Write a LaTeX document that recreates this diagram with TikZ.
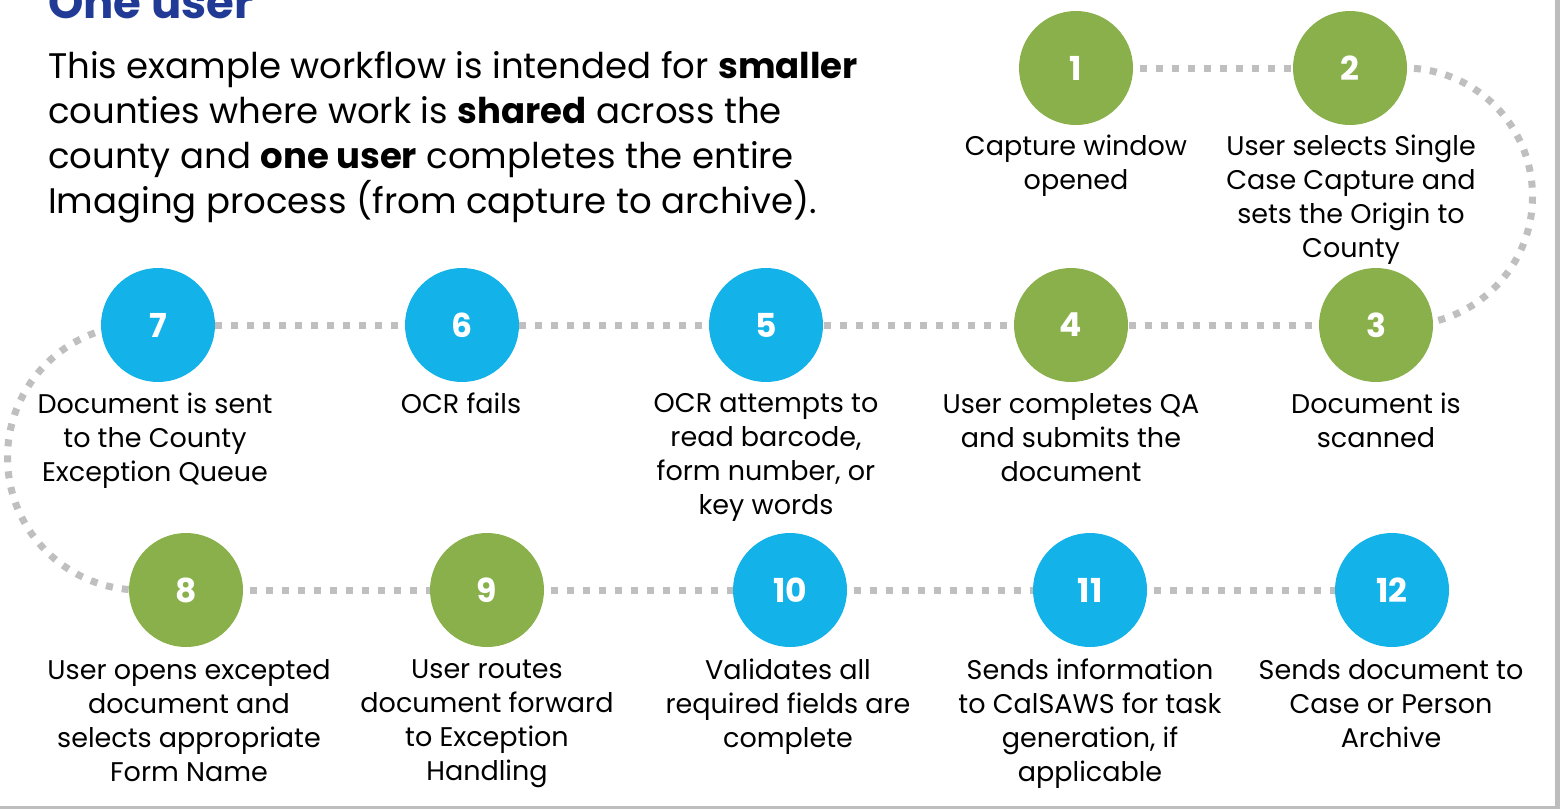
\documentclass[tikz,border=0pt]{standalone}
\usepackage{fontspec}
\setmainfont{Poppins}
\usetikzlibrary{backgrounds}
\definecolor{stepgreen}{HTML}{8AB04B}
\definecolor{stepblue}{HTML}{13B2E9}
\definecolor{dotgray}{HTML}{BFBFBF}
\definecolor{titleblue}{HTML}{213A96}
\definecolor{framegray}{HTML}{BDBDBD}
\tikzset{
  stepcircle/.style={circle, minimum size=114pt, inner sep=0pt, text=white,
    font=\fontsize{33}{33}\selectfont\bfseries},
  greenstep/.style={stepcircle, fill=stepgreen},
  bluestep/.style={stepcircle, fill=stepblue},
  steplabel/.style={anchor=north, inner sep=0pt, align=center,
    font=\fontsize{27}{34}\selectfont},
  dotline/.style={draw=dotgray, line width=7pt, dash pattern=on 7pt off 9pt}
}
\begin{document}
\begin{tikzpicture}[x=1pt, y=-1pt]
\useasboundingbox (0,0) rectangle (1560,809);
\begin{scope}[on background layer]
\fill[white] (0,0) rectangle (1560,809);
\end{scope}
% frame edges
\fill[framegray] (1555,0) rectangle (1560,809);
\fill[framegray] (0,806) rectangle (1560,809);

% heading and intro
\node[anchor=base west, inner sep=0pt, text=titleblue,
  font=\fontsize{45}{45}\selectfont\bfseries] (title) at (48,18) {One user};
\node[anchor=north west, inner sep=0pt, align=left,
  font=\fontsize{35.5}{45}\selectfont] (intro) at (48,51)
  {This example workflow is intended for \textbf{smaller}\\
   counties where work is \textbf{shared} across the\\
   county and \textbf{one user} completes the entire\\
   Imaging process (from capture to archive).};

% step circles
\node[greenstep] (c1) at (1076,68) {1};
\node[greenstep] (c2) at (1350,68) {2};
\node[greenstep] (c3) at (1376,325) {3};
\node[greenstep] (c4) at (1071,325) {4};
\node[bluestep]  (c5) at (766,325) {5};
\node[bluestep]  (c6) at (462,325) {6};
\node[bluestep]  (c7) at (158,325) {7};
\node[greenstep] (c8) at (186,590) {8};
\node[greenstep] (c9) at (487,590) {9};
\node[bluestep]  (c10) at (790,590) {10};
\node[bluestep]  (c11) at (1090,590) {11};
\node[bluestep]  (c12) at (1392,590) {12};

% dotted path joining the steps
\begin{scope}[on background layer]
\draw[dotline] (c1.center) -- (c2.center);
\draw[dotline] (c2.center) -- ++(54,0) arc[start angle=-90, end angle=90, radius=128.5] -- (c3.center);
\draw[dotline] (c3.center) -- (c4.center);
\draw[dotline] (c4.center) -- (c5.center);
\draw[dotline] (c5.center) -- (c6.center);
\draw[dotline] (c6.center) -- (c7.center);
\draw[dotline] (c7.center) -- ++(-18,0) arc[start angle=-90, end angle=-270, radius=132.5] -- (c8.center);
\draw[dotline] (c8.center) -- (c9.center);
\draw[dotline] (c9.center) -- (c10.center);
\draw[dotline] (c10.center) -- (c11.center);
\draw[dotline] (c11.center) -- (c12.center);
\end{scope}

% step descriptions
\node[steplabel] (l1) at (1076,135) {Capture window\\opened};
\node[steplabel] (l2) at (1351,135) {User selects Single\\Case Capture and\\sets the Origin to\\County};
\node[steplabel] (l3) at (1376,393) {Document is\\scanned};
\node[steplabel] (l4) at (1071,393) {User completes QA\\and submits the\\document};
\node[steplabel] (l5) at (766,393) {OCR attempts to\\read barcode,\\form number, or\\key words};
\node[steplabel] (l6) at (461,393) {OCR fails};
\node[steplabel] (l7) at (155,393) {Document is sent\\to the County\\Exception Queue};
\node[steplabel] (l8) at (189,659) {User opens excepted\\document and\\selects appropriate\\Form Name};
\node[steplabel] (l9) at (487,659) {User routes\\document forward\\to Exception\\Handling};
\node[steplabel] (l10) at (788,659) {Validates all\\required fields are\\complete};
\node[steplabel] (l11) at (1090,659) {Sends information\\to CalSAWS for task\\generation, if\\applicable};
\node[steplabel] (l12) at (1391,659) {Sends document to\\Case or Person\\Archive};
\end{tikzpicture}
\end{document}
